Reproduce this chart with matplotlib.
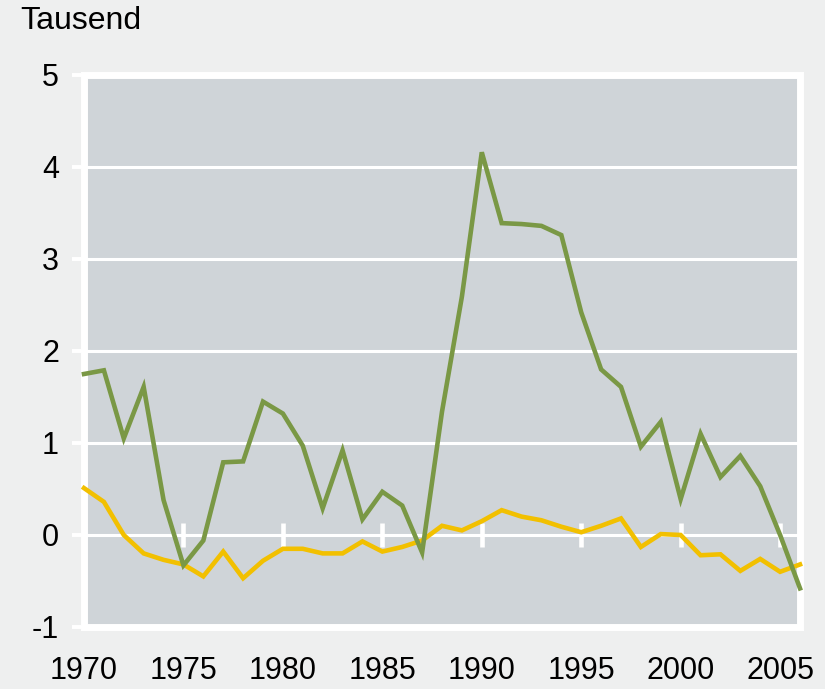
import matplotlib
matplotlib.use("Agg")
import matplotlib.pyplot as plt
import numpy as np

years = list(range(1970, 2007))
green = [1.75, 1.79, 1.05, 1.61, 0.38, -0.33, -0.06, 0.79, 0.80, 1.45,
         1.32, 0.97, 0.29, 0.92, 0.17, 0.47, 0.32, -0.19, 1.34, 2.59,
         4.16, 3.39, 3.38, 3.36, 3.26, 2.42, 1.80, 1.61, 0.96, 1.23,
         0.39, 1.10, 0.63, 0.86, 0.53, 0.00, -0.58]
yellow = [0.51, 0.36, 0.00, -0.20, -0.27, -0.32, -0.45, -0.18, -0.47, -0.28,
          -0.15, -0.15, -0.20, -0.20, -0.07, -0.18, -0.13, -0.06, 0.10, 0.05,
          0.15, 0.27, 0.20, 0.16, 0.09, 0.03, 0.10, 0.18, -0.13, 0.01,
          0.00, -0.22, -0.21, -0.39, -0.26, -0.40, -0.32]
xticks = [1970, 1975, 1980, 1985, 1990, 1995, 2000, 2005]
yticks = [-1, 0, 1, 2, 3, 4, 5]
ylabel_text = "Tausend"

FONT = ["Liberation Sans", "DejaVu Sans"]
plt.rcParams['font.family'] = FONT

bg = "#eeefef"
fig = plt.figure(figsize=(8.25, 6.89), dpi=100, facecolor=bg)
ax = fig.add_axes([84/825, 1-627/689, (800-84)/825, (627-75)/689])
ax.set_facecolor("#cfd4d8")

ax.set_xlim(1970, 2006)
ax.set_ylim(-1, 5)

for s in ax.spines.values():
    s.set_color("white")
    s.set_linewidth(5)

ax.set_yticks(yticks)
ax.set_yticklabels([str(v) for v in yticks])
ax.set_xticks(xticks)
ax.set_xticklabels([str(v) for v in xticks])
ax.tick_params(axis='y', direction='out', length=9, width=2.8, color='white',
               pad=9, labelsize=22, labelcolor='black')
ax.tick_params(axis='x', length=0, pad=21, labelsize=22, labelcolor='black')

ax.grid(axis='y', color='white', linewidth=2.2, zorder=1)
ax.set_axisbelow(True)

# short white tick marks on the zero line
ax.plot(xticks[1:], [0]*len(xticks[1:]), linestyle='none', marker='|',
        markersize=17, markeredgewidth=3.3, color='white', zorder=2.6)

ax.plot(years, yellow, color="#f2c000", linewidth=3.3, zorder=3,
        solid_joinstyle='miter', clip_on=False)
ax.plot(years, green, color="#7a9845", linewidth=3.3, zorder=3.1,
        solid_joinstyle='miter', clip_on=False)

fig.text(20/825, 1-21/689, ylabel_text, fontsize=23, ha='left', va='center')

fig.savefig("out.png", dpi=100, facecolor=bg)
